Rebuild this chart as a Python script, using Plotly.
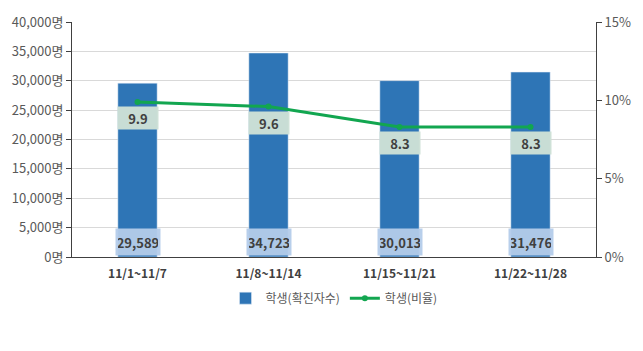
import plotly.graph_objects as go

categories = ["11/1~11/7", "11/8~11/14", "11/15~11/21", "11/22~11/28"]
cases = [29589, 34723, 30013, 31476]
ratio = [9.9, 9.6, 8.3, 8.3]
bar_name = "학생(확진자수)"
line_name = "학생(비율)"

FONT = "Noto Sans CJK KR"
BLUE = "#2E75B6"
GREEN = "#12A650"

fig = go.Figure()
fig.add_trace(go.Bar(x=categories, y=cases, name=bar_name, marker_color=BLUE,
                     width=0.3, yaxis="y"))
fig.add_trace(go.Scatter(x=categories, y=ratio, name=line_name, mode="lines+markers",
                         line=dict(color=GREEN, width=3), marker=dict(size=6, color=GREEN),
                         yaxis="y2"))

for c, v in zip(categories, cases):
    fig.add_annotation(x=c, y=0, yref="y", xref="x", text=f"<b>{v:,}</b>", showarrow=False,
                       yanchor="bottom", yshift=1, bgcolor="rgba(180,204,234,0.95)",
                       width=40, height=22, borderpad=2,
                       font=dict(family=FONT, size=13, color="#404040"))
for c, r in zip(categories, ratio):
    fig.add_annotation(x=c, y=r, yref="y2", xref="x", text=f"<b>{r}</b>", showarrow=False,
                       yanchor="top", yshift=-4, bgcolor="rgba(205,224,214,0.97)",
                       width=36, height=18, borderpad=2,
                       font=dict(family=FONT, size=13, color="#404040"))

fig.update_layout(
    width=643, height=351,
    margin=dict(l=70, r=43, t=18, b=94),
    paper_bgcolor="white", plot_bgcolor="white",
    font=dict(family=FONT, size=12, color="#595959"),
    showlegend=True,
    legend=dict(orientation="h", x=0.5, xanchor="center", y=-0.175, yanchor="middle",
                font=dict(family=FONT, size=12, color="#595959")),
    xaxis=dict(showline=True, linecolor="#404040", linewidth=1, ticks="",
               ticklabelstandoff=6,
               tickfont=dict(family=FONT, size=12, color="#404040", weight="bold")),
    yaxis=dict(range=[0, 40000], dtick=5000, tickformat=",", ticksuffix="명",
               showgrid=True, gridcolor="#d9d9d9", showline=True, linecolor="#404040",
               ticks="outside", ticklen=5, tickcolor="#404040", zeroline=False,
               tickfont=dict(family=FONT, size=13, color="#595959")),
    yaxis2=dict(range=[0, 15], dtick=5, ticksuffix="%", overlaying="y", side="right",
                showgrid=False, showline=True, linecolor="#404040", ticks="outside",
                ticklen=5, tickcolor="#404040", zeroline=False,
                tickfont=dict(family=FONT, size=13, color="#595959")),
)

fig.write_html("out.html")
